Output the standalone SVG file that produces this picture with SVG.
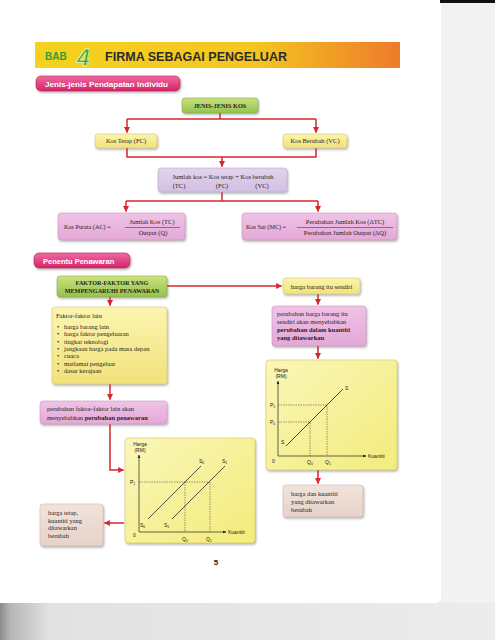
<svg xmlns="http://www.w3.org/2000/svg" width="495" height="640" viewBox="0 0 495 640">
<defs>
<linearGradient id="gBand" x1="0" y1="0" x2="1" y2="0"><stop offset="0" stop-color="#f5d21e"/><stop offset="0.6" stop-color="#f4c61f"/><stop offset="1" stop-color="#ee7b2b"/></linearGradient>
<linearGradient id="gPill" x1="0" y1="0" x2="0" y2="1"><stop offset="0" stop-color="#f06aa0"/><stop offset="1" stop-color="#d3246a"/></linearGradient>
<linearGradient id="gGreen" x1="0" y1="0" x2="0" y2="1"><stop offset="0" stop-color="#c9e27f"/><stop offset="1" stop-color="#94c24e"/></linearGradient>
<linearGradient id="gYel" x1="0" y1="0" x2="0" y2="1"><stop offset="0" stop-color="#fbf4b0"/><stop offset="1" stop-color="#f1e27a"/></linearGradient>
<linearGradient id="gGraph" x1="0" y1="0" x2="1" y2="1"><stop offset="0" stop-color="#faf6b8"/><stop offset="1" stop-color="#f3ec7c"/></linearGradient>
<linearGradient id="gPink" x1="0" y1="0" x2="0" y2="1"><stop offset="0" stop-color="#efc3e6"/><stop offset="1" stop-color="#e3a8d8"/></linearGradient>
<linearGradient id="gPurple" x1="0" y1="0" x2="0" y2="1"><stop offset="0" stop-color="#e2d3ec"/><stop offset="1" stop-color="#d3bfe2"/></linearGradient>
<linearGradient id="gBeige" x1="0" y1="0" x2="0" y2="1"><stop offset="0" stop-color="#f1e3dc"/><stop offset="1" stop-color="#e6d2c9"/></linearGradient>
<linearGradient id="gBottom" x1="0" y1="0" x2="1" y2="0"><stop offset="0" stop-color="#8a8a8a"/><stop offset="0.02" stop-color="#b5b5b5"/><stop offset="0.1" stop-color="#e2e2e2"/><stop offset="1" stop-color="#ececec"/></linearGradient>
<filter id="sh" x="-10%" y="-10%" width="130%" height="140%"><feDropShadow dx="1" dy="1.5" stdDeviation="0.9" flood-color="#555" flood-opacity="0.45"/></filter>
<marker id="ah" viewBox="0 0 10 10" refX="9" refY="5" markerWidth="4" markerHeight="4" orient="auto"><path d="M0,0 L10,5 L0,10 z" fill="#d8262e"/></marker>
<marker id="ax" viewBox="0 0 10 10" refX="9" refY="5" markerWidth="5" markerHeight="5" orient="auto"><path d="M0,1 L10,5 L0,9 z" fill="#222"/></marker>
<style>
.serif{font-family:"Liberation Serif","Times New Roman",serif;fill:#2a2418}
.sans{font-family:"Liberation Sans",Arial,sans-serif;fill:#222}
.t{font-size:6.5px}
.b{font-weight:bold}
.conn{fill:none;stroke:#d8262e;stroke-width:1.5}
.box{stroke-width:0.5}
.ax{stroke:#222;stroke-width:0.7;fill:none}
.dash{stroke:#333;stroke-width:0.5;stroke-dasharray:1.5 1;fill:none}
.curve{stroke:#222;stroke-width:0.8;fill:none}
.gl{font-size:5px}
.pill{font-family:"Liberation Sans",Arial,sans-serif;font-weight:bold;fill:#fff}
</style>
</defs>

<!-- page background -->
<rect x="0" y="0" width="495" height="640" fill="#ececec"/>
<rect x="441" y="0" width="54" height="640" fill="#f2f2f2"/>
<rect x="0" y="603" width="495" height="37" fill="url(#gBottom)"/>
<path d="M0,0 H441 V597 Q441,603 435,603 H0 Z" fill="#ffffff"/>
<path d="M440,0 H495 V3 H440 Z" fill="#111"/>

<!-- header -->
<g id="header">
<rect x="35" y="42" width="365" height="26" fill="url(#gBand)"/>
<text x="45" y="60" class="sans b" style="font-size:10px;fill:#2f9e3a">BAB</text>
<text x="77" y="66" class="sans b" style="font-size:23px;font-style:italic;fill:#3aa935;stroke:#eaf3a8;stroke-width:0.8">4</text>
<text x="105" y="61" class="sans b" style="font-size:13px;fill:#2b2b2b" textLength="182" lengthAdjust="spacingAndGlyphs">FIRMA SEBAGAI PENGELUAR</text>
</g>

<g id="pill1">
<rect x="36" y="76" width="144" height="15" rx="5" fill="url(#gPill)" stroke="#b91d5b" stroke-width="0.6" filter="url(#sh)"/>
<text x="45" y="86.5" class="pill" style="font-size:7.5px" textLength="123" lengthAdjust="spacingAndGlyphs">Jenis-jenis Pendapatan Individu</text>
</g>

<!-- connectors -->
<g id="connectors">
<path class="conn" d="M220,113 V119 M127,119 H316"/>
<path class="conn" d="M127,119 V132.5" marker-end="url(#ah)"/>
<path class="conn" d="M316,119 V132.5" marker-end="url(#ah)"/>
<path class="conn" d="M127,148 V157 H316 V148"/>
<path class="conn" d="M222,157 V166.5" marker-end="url(#ah)"/>
<path class="conn" d="M222,192 V201 M126,201 H318"/>
<path class="conn" d="M126,201 V211.5" marker-end="url(#ah)"/>
<path class="conn" d="M318,201 V211.5" marker-end="url(#ah)"/>
<path class="conn" d="M167,286 H281.5" marker-end="url(#ah)"/>
<path class="conn" d="M318,294 V304.5" marker-end="url(#ah)"/>
<path class="conn" d="M318,346 V358.5" marker-end="url(#ah)"/>
<path class="conn" d="M318,470 V483.5" marker-end="url(#ah)"/>
<path class="conn" d="M110,297 V305.5" marker-end="url(#ah)"/>
<path class="conn" d="M110,384 V399.5" marker-end="url(#ah)"/>
<path class="conn" d="M110,424 V470 H123.5" marker-end="url(#ah)"/>
<path class="conn" d="M124,523 H104.5" marker-end="url(#ah)"/>
</g>

<g id="jenisKos">
<rect x="182" y="98" width="76" height="15" rx="3" fill="url(#gGreen)" stroke="#7aa33c" class="box" filter="url(#sh)"/>
<text x="220" y="108" text-anchor="middle" class="serif b" style="font-size:6.3px">JENIS-JENIS KOS</text>
</g>

<g id="kosTetap">
<rect x="95" y="134" width="62" height="14" rx="3" fill="url(#gYel)" stroke="#d4c25a" class="box" filter="url(#sh)"/>
<text x="126" y="143.3" text-anchor="middle" class="serif t">Kos Tetap (FC)</text>
</g>

<g id="kosBerubah">
<rect x="283" y="134" width="64" height="14" rx="3" fill="url(#gYel)" stroke="#d4c25a" class="box" filter="url(#sh)"/>
<text x="315" y="143.3" text-anchor="middle" class="serif t">Kos Berubah (VC)</text>
</g>

<g id="jumlahKos">
<rect x="158" y="168" width="129" height="24" rx="3" fill="url(#gPurple)" stroke="#b8a0cc" class="box" filter="url(#sh)"/>
<text x="223" y="179" text-anchor="middle" class="serif t">Jumlah kos = Kos tetap + Kos berubah</text>
<text x="179" y="188" text-anchor="middle" class="serif t">(TC)</text>
<text x="222" y="188" text-anchor="middle" class="serif t">(FC)</text>
<text x="262" y="188" text-anchor="middle" class="serif t">(VC)</text>
</g>

<g id="kosPurata">
<rect x="58" y="213" width="127" height="27" rx="3" fill="url(#gPink)" stroke="#c98bbd" class="box" filter="url(#sh)"/>
<text x="64" y="229" class="serif" style="font-size:6.2px">Kos Purata (AC)  =</text>
<text x="152" y="224" text-anchor="middle" class="serif t">Jumlah Kos (TC)</text>
<line x1="125" y1="227.5" x2="180" y2="227.5" stroke="#2a2418" stroke-width="0.5"/>
<text x="153" y="235" text-anchor="middle" class="serif t">Output (Q)</text>
</g>

<g id="kosSut">
<rect x="242" y="213" width="155" height="27" rx="3" fill="url(#gPink)" stroke="#c98bbd" class="box" filter="url(#sh)"/>
<text x="246" y="229" class="serif" style="font-size:6.2px">Kos Sut (MC)  =</text>
<text x="345" y="224" text-anchor="middle" class="serif t">Perubahan Jumlah Kos (ΔTC)</text>
<line x1="297" y1="227.5" x2="393" y2="227.5" stroke="#2a2418" stroke-width="0.5"/>
<text x="345" y="235" text-anchor="middle" class="serif t">Perubahan Jumlah Output (ΔQ)</text>
</g>

<g id="pill2">
<rect x="34" y="253" width="96" height="15" rx="5" fill="url(#gPill)" stroke="#b91d5b" stroke-width="0.6" filter="url(#sh)"/>
<text x="43" y="263.5" class="pill" style="font-size:7.5px">Penentu Penawaran</text>
</g>

<g id="faktor">
<rect x="57" y="276" width="110" height="21" rx="3" fill="url(#gGreen)" stroke="#7aa33c" class="box" filter="url(#sh)"/>
<text x="112" y="284.5" text-anchor="middle" class="serif b" style="font-size:6.2px">FAKTOR-FAKTOR YANG</text>
<text x="112" y="293" text-anchor="middle" class="serif b" style="font-size:6.2px">MEMPENGARUHI PENAWARAN</text>
</g>

<g id="faktorLain">
<rect x="52" y="307" width="115" height="77" rx="3" fill="url(#gYel)" stroke="#d4c25a" class="box" filter="url(#sh)"/>
<g class="serif t">
<text x="56" y="318">Faktor-faktor lain</text>
<text x="57" y="329">•</text><text x="64" y="329">harga barang lain</text>
<text x="57" y="336.3">•</text><text x="64" y="336.3">harga faktor pengeluaran</text>
<text x="57" y="343.6">•</text><text x="64" y="343.6">tingkat teknologi</text>
<text x="57" y="350.9">•</text><text x="64" y="350.9">jangkaan harga pada masa depan</text>
<text x="57" y="358.2">•</text><text x="64" y="358.2">cuaca</text>
<text x="57" y="365.5">•</text><text x="64" y="365.5">matlamat pengeluar</text>
<text x="57" y="372.8">•</text><text x="64" y="372.8">dasar kerajaan</text>
</g>
</g>

<g id="perubahanFaktor">
<rect x="40" y="401" width="127" height="23" rx="3" fill="url(#gPink)" stroke="#c98bbd" class="box" filter="url(#sh)"/>
<text x="47" y="410.5" class="serif t">perubahan faktor-faktor lain akan</text>
<text x="47" y="419.5" class="serif t">menyebabkan <tspan class="b">perubahan penawaran</tspan></text>
</g>

<g id="hargaSendiri">
<rect x="283" y="278" width="77" height="16" rx="3" fill="url(#gYel)" stroke="#d4c25a" class="box" filter="url(#sh)"/>
<text x="321.5" y="288.5" text-anchor="middle" class="serif t">harga barang itu sendiri</text>
</g>

<g id="perubahanHarga">
<rect x="272" y="306" width="94" height="40" rx="3" fill="url(#gPink)" stroke="#c98bbd" class="box" filter="url(#sh)"/>
<text x="277" y="315.5" class="serif t">perubahan harga barang itu</text>
<text x="277" y="323.8" class="serif t">sendiri akan menyebabkan</text>
<text x="277" y="332.1" class="serif t b">perubahan dalam kuantiti</text>
<text x="277" y="340.4" class="serif t b">yang ditawarkan</text>
</g>

<g id="graphRight">
<rect x="266" y="360" width="131" height="110" rx="3" fill="url(#gGraph)" stroke="#c9bd55" class="box" filter="url(#sh)"/>
<text x="281" y="372" text-anchor="middle" class="sans gl">Harga</text>
<text x="281" y="378" text-anchor="middle" class="sans gl">(RM)</text>
<path class="ax" d="M278,456 V381" marker-end="url(#ax)"/>
<path class="ax" d="M278,456 H366" marker-end="url(#ax)"/>
<text x="368" y="458" class="sans gl">Kuantiti</text>
<text x="272" y="463" class="sans gl">0</text>
<path class="dash" d="M278,405 H327 V456 M278,422 H310 V456"/>
<text x="270" y="407" class="sans gl">P<tspan font-size="3.5" dy="1">1</tspan></text>
<text x="270" y="424" class="sans gl">P<tspan font-size="3.5" dy="1">0</tspan></text>
<text x="307" y="464" class="sans gl">Q<tspan font-size="3.5" dy="1">0</tspan></text>
<text x="325" y="464" class="sans gl">Q<tspan font-size="3.5" dy="1">1</tspan></text>
<path class="curve" d="M286,446 L343,389"/>
<text x="281" y="444" class="sans gl">S</text>
<text x="345" y="390" class="sans gl">S</text>
</g>

<g id="hargaKuantiti">
<rect x="283" y="485" width="80" height="32" rx="3" fill="url(#gBeige)" stroke="#cbb3a8" class="box" filter="url(#sh)"/>
<text x="291" y="495.5" class="serif t">harga dan kuantiti</text>
<text x="291" y="503.5" class="serif t">yang ditawarkan</text>
<text x="291" y="511.5" class="serif t">berubah</text>
</g>

<g id="graphLeft">
<rect x="125" y="438" width="130" height="105" rx="3" fill="url(#gGraph)" stroke="#c9bd55" class="box" filter="url(#sh)"/>
<text x="140" y="446" text-anchor="middle" class="sans gl">Harga</text>
<text x="140" y="452" text-anchor="middle" class="sans gl">(RM)</text>
<path class="ax" d="M139,532 V455" marker-end="url(#ax)"/>
<path class="ax" d="M139,532 H226" marker-end="url(#ax)"/>
<text x="228" y="534" class="sans gl">Kuantiti</text>
<text x="133" y="537" class="sans gl">0</text>
<path class="dash" d="M139,482 H210 V532 M185,482 V532"/>
<text x="130" y="484" class="sans gl">P<tspan font-size="3.5" dy="1">1</tspan></text>
<text x="182" y="541" class="sans gl">Q<tspan font-size="3.5" dy="1">0</tspan></text>
<text x="206" y="541" class="sans gl">Q<tspan font-size="3.5" dy="1">1</tspan></text>
<path class="curve" d="M148,519 L201,466"/>
<path class="curve" d="M172,519 L225,466"/>
<text x="140" y="527" class="sans gl">S<tspan font-size="3.5" dy="1">0</tspan></text>
<text x="164" y="527" class="sans gl">S<tspan font-size="3.5" dy="1">1</tspan></text>
<text x="199" y="463" class="sans gl">S<tspan font-size="3.5" dy="1">0</tspan></text>
<text x="222" y="463" class="sans gl">S<tspan font-size="3.5" dy="1">1</tspan></text>
</g>

<g id="hargaTetap">
<rect x="40" y="504" width="63" height="42" rx="3" fill="url(#gBeige)" stroke="#cbb3a8" class="box" filter="url(#sh)"/>
<text x="48" y="515" class="serif t">harga tetap,</text>
<text x="48" y="522.5" class="serif t">kuantiti yang</text>
<text x="48" y="530" class="serif t">ditawarkan</text>
<text x="48" y="537.5" class="serif t">berubah</text>
</g>

<text id="pageNum" x="216" y="565" text-anchor="middle" class="sans b" style="font-size:8px">5</text>
</svg>
